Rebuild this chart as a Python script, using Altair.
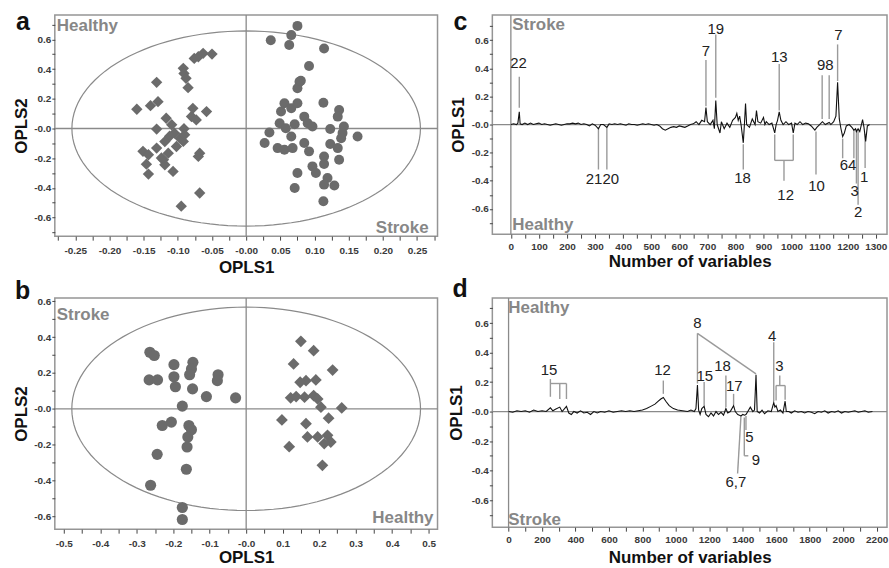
import altair as alt
import pandas as pd

# ---------------- data: panel a (OPLS scores) ----------------
a_healthy_x = [-0.076, -0.070, -0.063, -0.050, -0.092, -0.091, -0.088, -0.085, -0.131, -0.160,
               -0.140, -0.129, -0.078, -0.058, -0.080, -0.073, -0.117, -0.131, -0.109, -0.091,
               -0.105, -0.097, -0.092, -0.102, -0.131, -0.151, -0.143, -0.121, -0.119, -0.107,
               -0.146, -0.143, -0.068, -0.070, -0.068, -0.095, -0.114, -0.124, -0.090, -0.112, -0.119]
a_healthy_y = [0.472, 0.483, 0.506, 0.501, 0.405, 0.371, 0.338, 0.275, 0.311, 0.130,
               0.154, 0.181, 0.136, 0.114, 0.081, 0.058, 0.069, -0.004, 0.025, -0.002,
               -0.031, -0.065, -0.087, -0.121, -0.132, -0.154, -0.177, -0.210, -0.244, -0.289,
               -0.240, -0.307, -0.166, -0.188, -0.434, -0.523, -0.166, -0.199, -0.042, -0.052, -0.088]
a_stroke_x = [0.075, 0.036, 0.066, 0.063, 0.078, 0.075, 0.056, 0.051, 0.066, 0.075,
              0.049, 0.071, 0.034, 0.027, 0.046, 0.056, 0.068, 0.066, 0.075, 0.071,
              0.114, 0.092, 0.080, 0.113, 0.136, 0.134, 0.085, 0.090, 0.097, 0.123,
              0.143, 0.141, 0.139, 0.163, 0.085, 0.092, 0.123, 0.134, 0.114, 0.114,
              0.136, 0.097, 0.102, 0.119, 0.114, 0.129, 0.113, 0.058]
a_stroke_y = [0.691, 0.595, 0.629, 0.562, 0.315, 0.271, 0.170, 0.114, 0.136, 0.170,
              0.036, 0.029, -0.027, -0.098, -0.132, -0.143, -0.132, -0.054, -0.300, -0.400,
              0.539, 0.421, 0.322, 0.174, 0.125, 0.080, 0.080, 0.036, 0.013, -0.004,
              0.013, -0.031, -0.065, -0.054, -0.098, -0.154, -0.105, -0.132, -0.188, -0.239,
              -0.210, -0.255, -0.300, -0.333, -0.378, -0.384, -0.490, 0.002]
a_ellipse = (0.255, 0.657)   # semi-axes of the confidence ellipse

# ---------------- data: panel b ----------------
b_stroke_x = [-0.264, -0.252, -0.266, -0.243, -0.198, -0.198, -0.194, -0.146, -0.150, -0.155,
              -0.147, -0.109, -0.077, -0.079, -0.029, -0.175, -0.230, -0.205, -0.157, -0.150,
              -0.160, -0.162, -0.244, -0.164, -0.262, -0.175, -0.175]
b_stroke_y = [0.315, 0.297, 0.161, 0.161, 0.246, 0.179, 0.123, 0.259, 0.222, 0.190,
              0.111, 0.068, 0.190, 0.157, 0.061, 0.015, -0.093, -0.074, -0.093, -0.117,
              -0.157, -0.213, -0.254, -0.337, -0.426, -0.550, -0.617]
b_healthy_x = [0.150, 0.185, 0.130, 0.237, 0.164, 0.191, 0.148, 0.122, 0.137, 0.160,
               0.185, 0.196, 0.205, 0.262, 0.226, 0.164, 0.168, 0.196, 0.223, 0.232,
               0.214, 0.209, 0.098, 0.118]
b_healthy_y = [0.376, 0.324, 0.250, 0.216, 0.157, 0.161, 0.148, 0.061, 0.068, 0.065,
               0.074, 0.055, 0.009, 0.005, -0.052, -0.083, -0.157, -0.157, -0.148, -0.185,
               -0.194, -0.315, -0.062, -0.211]
b_ellipse = (0.478, 0.567)

# ---------------- data: panel c (loadings) ----------------
c_loading = [(0, 0.0), (10, 0.005), (20, 0.0), (25, 0.01), (30, 0.09), (33, 0.005), (40, 0.0),
             (50, 0.01), (60, 0.0), (70, 0.01), (80, 0.0), (90, 0.005), (100, 0.01), (110, 0.0),
             (120, 0.005), (130, 0.0), (140, -0.005), (150, 0.0), (160, 0.005), (170, 0.0),
             (180, -0.005), (190, 0.0), (200, 0.005), (210, 0.005), (220, 0.01), (230, 0.005),
             (240, 0.01), (250, 0.0), (260, 0.005), (270, 0.0), (280, -0.01), (290, 0.005),
             (300, -0.005), (312, -0.03), (320, 0.0), (330, 0.0), (342, -0.02), (350, 0.005),
             (360, 0.0), (370, 0.005), (380, 0.0), (390, 0.005), (400, 0.0), (410, -0.005),
             (420, 0.005), (430, 0.0), (440, 0.0), (450, -0.005), (460, 0.0), (470, 0.005),
             (480, 0.0), (490, 0.005), (500, 0.0), (510, -0.005), (520, 0.0), (530, -0.01),
             (540, -0.03), (550, -0.04), (560, -0.03), (570, -0.02), (580, -0.015), (590, -0.02),
             (600, -0.01), (610, -0.015), (620, -0.02), (630, -0.01), (640, 0.0), (650, 0.005),
             (660, 0.02), (670, 0.0), (680, 0.03), (690, 0.02), (695, 0.12), (700, 0.02),
             (710, 0.0), (720, 0.03), (725, -0.03), (730, 0.17), (735, 0.0), (745, -0.06),
             (750, 0.02), (760, -0.03), (770, 0.01), (780, -0.02), (790, 0.03), (800, 0.05),
             (805, 0.08), (810, 0.03), (815, 0.06), (820, 0.0), (828, -0.13), (832, 0.0),
             (836, 0.15), (840, 0.0), (850, -0.02), (860, 0.04), (870, 0.0), (875, 0.10),
             (880, 0.02), (890, 0.01), (900, 0.05), (905, 0.0), (910, 0.02), (920, 0.0),
             (930, 0.01), (940, -0.06), (945, 0.0), (950, 0.03), (956, 0.09), (962, 0.03),
             (970, 0.0), (980, 0.02), (990, 0.0), (1000, 0.01), (1006, -0.06), (1012, 0.01),
             (1020, 0.0), (1030, 0.02), (1040, 0.0), (1050, 0.01), (1060, 0.005), (1070, -0.01),
             (1083, -0.04), (1090, -0.02), (1100, 0.0), (1110, 0.02), (1120, 0.0), (1134, 0.015),
             (1140, 0.0), (1150, 0.02), (1158, 0.06), (1164, 0.30), (1170, 0.04), (1176, -0.03),
             (1182, -0.085), (1188, -0.06), (1195, -0.01), (1205, 0.0), (1215, -0.02),
             (1222, -0.04), (1228, -0.03), (1231, -0.05), (1237, -0.03), (1243, -0.05),
             (1253, 0.035), (1258, -0.02), (1264, -0.12), (1270, -0.01), (1278, 0.0)]
c_labels = [("22", 27, 0.44), ("7", 695, 0.52), ("19", 730, 0.68), ("13", 956, 0.48),
            ("98", 1120, 0.42), ("7", 1167, 0.64), ("2120", 326, -0.39),
            ("18", 825, -0.38), ("12", 979, -0.50), ("10", 1089, -0.44),
            ("64", 1201, -0.285), ("3", 1225, -0.475), ("2", 1237, -0.62),
            ("1", 1259, -0.37)]
c_leaders = [(30, 0.34, 30, 0.12), (695, 0.46, 695, 0.13), (730, 0.64, 730, 0.19),
             (956, 0.43, 956, 0.10), (1109, 0.35, 1109, 0.04), (1134, 0.35, 1134, 0.04),
             (1164, 0.57, 1164, 0.31), (312, -0.02, 312, -0.32), (342, -0.02, 342, -0.32),
             (828, -0.14, 828, -0.32), (940, -0.07, 940, -0.255), (1006, -0.07, 1006, -0.255),
             (940, -0.255, 1006, -0.255), (973, -0.255, 973, -0.40), (1087, -0.05, 1087, -0.355),
             (1182, -0.10, 1182, -0.24), (1222, -0.035, 1222, -0.24), (1231, -0.035, 1231, -0.42),
             (1237, -0.035, 1237, -0.57), (1262, -0.065, 1262, -0.31)]

# ---------------- data: panel d (loadings) ----------------
d_loading = [(0, 0.0), (25, -0.005), (50, 0.005), (75, 0.0), (100, 0.005), (125, -0.005),
             (150, 0.01), (175, 0.0), (200, 0.005), (225, 0.0), (250, 0.025), (265, 0.005),
             (280, 0.015), (306, 0.03), (320, 0.0), (346, 0.035), (360, -0.01), (375, -0.02),
             (390, 0.0), (410, -0.01), (430, 0.005), (450, -0.01), (470, -0.005), (490, -0.02),
             (510, 0.0), (530, -0.01), (550, 0.0), (575, -0.005), (600, 0.005), (625, -0.005),
             (650, 0.0), (675, 0.005), (700, 0.0), (725, 0.005), (750, 0.0), (775, 0.005),
             (800, 0.01), (825, 0.02), (850, 0.035), (875, 0.05), (895, 0.07), (910, 0.085),
             (925, 0.095), (940, 0.07), (960, 0.04), (985, 0.02), (1010, 0.01), (1040, 0.005),
             (1070, 0.0), (1090, 0.01), (1110, 0.0), (1120, 0.02), (1129, 0.18), (1136, 0.01),
             (1145, -0.02), (1155, 0.02), (1169, 0.035), (1180, -0.02), (1195, -0.035),
             (1210, -0.01), (1225, -0.03), (1240, 0.0), (1255, -0.02), (1270, -0.005),
             (1285, -0.025), (1299, 0.02), (1310, -0.01), (1325, 0.0), (1345, 0.04), (1355, 0.0),
             (1370, -0.02), (1389, -0.03), (1400, -0.02), (1410, -0.025), (1419, -0.02),
             (1430, 0.0), (1445, 0.03), (1460, 0.0), (1470, 0.01), (1479, 0.25), (1486, 0.0),
             (1500, -0.01), (1515, 0.01), (1530, -0.015), (1550, 0.005), (1570, 0.0),
             (1585, 0.06), (1592, 0.03), (1599, 0.04), (1610, 0.0), (1625, 0.01), (1640, -0.01),
             (1653, 0.07), (1660, 0.0), (1675, 0.0), (1690, -0.01), (1710, 0.005), (1730, -0.005),
             (1750, 0.0), (1770, -0.01), (1790, 0.0), (1810, -0.005), (1830, -0.015), (1850, 0.0),
             (1870, -0.005), (1890, 0.005), (1910, -0.01), (1930, 0.0), (1950, -0.005),
             (1970, 0.005), (1990, -0.01), (2010, 0.0), (2030, -0.005), (2050, 0.0),
             (2070, 0.005), (2090, -0.005), (2110, 0.0), (2130, 0.005), (2150, -0.005), (2175, 0.0)]
d_labels = [("15", 242, 0.28), ("12", 920, 0.28), ("8", 1129, 0.60), ("15", 1173, 0.243),
            ("18", 1279, 0.31), ("17", 1349, 0.176), ("4", 1575, 0.514), ("3", 1619, 0.311),
            ("5", 1439, -0.173), ("9", 1479, -0.326), ("6,7", 1359, -0.478)]
d_leaders = [(250, 0.22, 250, 0.10), (250, 0.19, 346, 0.19), (306, 0.19, 306, 0.085),
             (346, 0.19, 346, 0.085), (925, 0.21, 925, 0.12), (1129, 0.53, 1129, 0.19),
             (1129, 0.53, 1479, 0.255), (1169, 0.20, 1169, 0.04), (1299, 0.245, 1299, 0.03),
             (1345, 0.12, 1345, 0.045), (1585, 0.47, 1585, 0.07), (1621, 0.245, 1621, 0.176),
             (1599, 0.176, 1653, 0.176), (1599, 0.176, 1599, 0.075), (1653, 0.176, 1653, 0.08),
             (1419, -0.03, 1419, -0.125), (1409, -0.04, 1409, -0.30), (1409, -0.30, 1433, -0.30),
             (1389, -0.03, 1369, -0.42)]

# ---------------- tick values ----------------
a_x_ticks = [-0.275, -0.25, -0.225, -0.2, -0.175, -0.15, -0.125, -0.1, -0.075, -0.05, -0.025, 0.0,
             0.025, 0.05, 0.075, 0.1, 0.125, 0.15, 0.175, 0.2, 0.225, 0.25, 0.275]
score_y_ticks = [-0.7, -0.6, -0.5, -0.4, -0.3, -0.2, -0.1, 0.0, 0.1, 0.2, 0.3, 0.4, 0.5, 0.6, 0.7]
b_x_ticks = [-0.5, -0.45, -0.4, -0.35, -0.3, -0.25, -0.2, -0.15, -0.1, -0.05, 0.0, 0.05, 0.1,
             0.15, 0.2, 0.25, 0.3, 0.35, 0.4, 0.45, 0.5]
c_x_ticks = [0, 50, 100, 150, 200, 250, 300, 350, 400, 450, 500, 550, 600, 650, 700, 750, 800,
             850, 900, 950, 1000, 1050, 1100, 1150, 1200, 1250, 1300]
d_x_ticks = [0, 100, 200, 300, 400, 500, 600, 700, 800, 900, 1000, 1100, 1200, 1300, 1400, 1500,
             1600, 1700, 1800, 1900, 2000, 2100, 2200]

# ---------------- styling ----------------
FONT = "Liberation Sans"
PT = "#6b6b6b"
FRAME = "#959595"
REF = "#8a8a8a"
LEAD = "#9a9a9a"
GROUPC = "#878787"


def dec_expr(mult, dec, lim):
    return (f"(abs(datum.value*{mult} - round(datum.value*{mult})) < 0.01 && abs(datum.value) <= {lim}) ? "
            f"((datum.value <= 0 ? '-' : '') + format(abs(datum.value), '.{dec}f')) : ''")


def int_expr(step):
    return f"(datum.value % {step} == 0) ? format(datum.value, 'd') : ''"


def x_axis(title, values, expr, label_pad, title_pad):
    return alt.Axis(title=title, values=values, labelExpr=expr, orient="bottom", domain=False,
                    grid=False, tickSize=4, tickColor="#444", tickWidth=1, labelPadding=label_pad,
                    labelFont=FONT, labelFontSize=10, labelFontWeight="bold", labelColor="#3a3a3a",
                    labelFlush=False, labelOverlap=False, labelAngle=0,
                    titleFont=FONT, titleFontSize=17, titleFontWeight="bold", titleColor="#111",
                    titlePadding=title_pad, minExtent=17, maxExtent=17)


def y_axis(title, values, expr, title_pad):
    return alt.Axis(title=title, values=values, labelExpr=expr, orient="left", domain=False,
                    grid=False, tickSize=3, tickColor="#444", tickWidth=1, labelPadding=1,
                    labelFont=FONT, labelFontSize=10, labelFontWeight="bold", labelColor="#3a3a3a",
                    labelFlush=False, labelOverlap=False,
                    titleFont=FONT, titleFontSize=17, titleFontWeight="bold", titleColor="#111",
                    titlePadding=title_pad, minExtent=21, maxExtent=21)


def label_text(txt, x, y, align="left", size=17, weight="bold", color=GROUPC):
    return alt.Chart(pd.DataFrame({"t": [txt]})).mark_text(
        font=FONT, fontSize=size, fontWeight=weight, color=color, align=align, baseline="alphabetic"
    ).encode(text="t:N", x=alt.value(x), y=alt.value(y))


def letter(txt, x, y):
    return label_text(txt, x, y, size=25, weight="bold", color="#111")


zero_df = pd.DataFrame({"z": [0.0]})


def score_panel(hx, hy, sx, sy, ell, xdom, ydom, xax, yax, w, h, sizes, texts, let):
    xs = alt.Scale(domain=xdom, nice=False, zero=False)
    ys = alt.Scale(domain=ydom, nice=False, zero=False)
    hline = alt.Chart(zero_df).mark_rule(color=REF, strokeWidth=1.3).encode(
        y=alt.Y("z:Q", scale=ys, axis=yax))
    vline = alt.Chart(zero_df).mark_rule(color=REF, strokeWidth=1.3).encode(
        x=alt.X("z:Q", scale=xs, axis=xax))
    ellipse = alt.Chart(alt.sequence(0, 361, 3, as_="t")).transform_calculate(
        ex=f"{ell[0]}*cos(datum.t*PI/180)", ey=f"{ell[1]}*sin(datum.t*PI/180)"
    ).mark_line(color=REF, strokeWidth=1.2).encode(
        x=alt.X("ex:Q", scale=xs, axis=xax), y=alt.Y("ey:Q", scale=ys, axis=yax), order="t:Q")
    dia = alt.Chart(pd.DataFrame({"x": hx, "y": hy})).mark_point(
        shape="diamond", filled=True, opacity=1, color=PT, size=sizes[0]).encode(
        x=alt.X("x:Q", scale=xs, axis=xax), y=alt.Y("y:Q", scale=ys, axis=yax))
    cir = alt.Chart(pd.DataFrame({"x": sx, "y": sy})).mark_point(
        shape="circle", filled=True, opacity=1, color=PT, size=sizes[1]).encode(
        x=alt.X("x:Q", scale=xs, axis=xax), y=alt.Y("y:Q", scale=ys, axis=yax))
    return alt.layer(hline, vline, ellipse, dia, cir, *texts, let).properties(width=w, height=h)


def loading_panel(pts, labels, leaders, xdom, ydom, xax, yax, w, h, lab_size, texts, let):
    xs = alt.Scale(domain=xdom, nice=False, zero=False)
    ys = alt.Scale(domain=ydom, nice=False, zero=False)
    hline = alt.Chart(zero_df).mark_rule(color=REF, strokeWidth=1.3).encode(
        y=alt.Y("z:Q", scale=ys, axis=yax))
    vline = alt.Chart(zero_df).mark_rule(color=REF, strokeWidth=1.3).encode(
        x=alt.X("z:Q", scale=xs, axis=xax))
    lead = alt.Chart(pd.DataFrame(leaders, columns=["x1", "y1", "x2", "y2"])).mark_rule(
        color=LEAD, strokeWidth=1.4).encode(
        x=alt.X("x1:Q", scale=xs, axis=xax), y=alt.Y("y1:Q", scale=ys, axis=yax),
        x2="x2:Q", y2="y2:Q")
    line = alt.Chart(pd.DataFrame(pts, columns=["v", "val"])).mark_line(
        color="#111", strokeWidth=1.1).encode(
        x=alt.X("v:Q", scale=xs, axis=xax), y=alt.Y("val:Q", scale=ys, axis=yax))
    labs = alt.Chart(pd.DataFrame(labels, columns=["t", "lx", "ly"])).mark_text(
        font=FONT, fontSize=lab_size, color="#222", align="center", baseline="middle").encode(
        x=alt.X("lx:Q", scale=xs, axis=xax), y=alt.Y("ly:Q", scale=ys, axis=yax), text="t:N")
    return alt.layer(hline, vline, lead, line, labs, *texts, let).properties(width=w, height=h)


panel_a = score_panel(
    a_healthy_x, a_healthy_y, a_stroke_x, a_stroke_y, a_ellipse,
    [-0.28, 0.28], [-0.725, 0.765],
    x_axis("OPLS1", a_x_ticks, dec_expr(20, 2, 0.26), 5, 6.7),
    y_axis("OPLS2", score_y_ticks, dec_expr(5, 1, 0.61), 3),
    384, 222, (130, 100),
    [label_text("Healthy", 2, 16), label_text("Stroke", 375, 219, align="right")],
    letter("a", -39, 15))

panel_b = score_panel(
    b_healthy_x, b_healthy_y, b_stroke_x, b_stroke_y, b_ellipse,
    [-0.5246, 0.5246], [-0.671, 0.618],
    x_axis("OPLS1", b_x_ticks, dec_expr(10, 1, 0.51), 5, 3.5),
    y_axis("OPLS2", score_y_ticks, dec_expr(5, 1, 0.61), 3),
    384, 232, (140, 125),
    [label_text("Stroke", 2, 22), label_text("Healthy", 380, 226, align="right")],
    letter("b", -40, 1))

panel_c = loading_panel(
    c_loading, c_labels, c_leaders, [-66, 1340], [-0.78, 0.78],
    x_axis("Number of variables", c_x_ticks, int_expr(100), 3, 2.7),
    y_axis("OPLS1", score_y_ticks, dec_expr(5, 1, 0.61), 4),
    396, 220, 15,
    [label_text("Stroke", 20, 15), label_text("Healthy", 20, 216)],
    letter("c", -39, 15))

panel_d = loading_panel(
    d_loading, d_labels, d_leaders, [-97, 2262], [-0.784, 0.77],
    x_axis("Number of variables", d_x_ticks, int_expr(200), 3, 5),
    y_axis("OPLS1", score_y_ticks, dec_expr(5, 1, 0.61), 5.5),
    396, 230, 15,
    [label_text("Healthy", 16, 15), label_text("Stroke", 16, 228)],
    letter("d", -40, -1))

chart = alt.concat(
    panel_a, panel_c, panel_b, panel_d,
    columns=2, spacing={"row": 62, "column": 55}, bounds="flush", align="each"
).properties(
    padding={"left": 12, "top": 8, "right": 0, "bottom": 0}, background="white"
).configure_view(stroke=FRAME, strokeWidth=1.5)

chart.save("out.html", embed_options={"renderer": "svg", "actions": False})
